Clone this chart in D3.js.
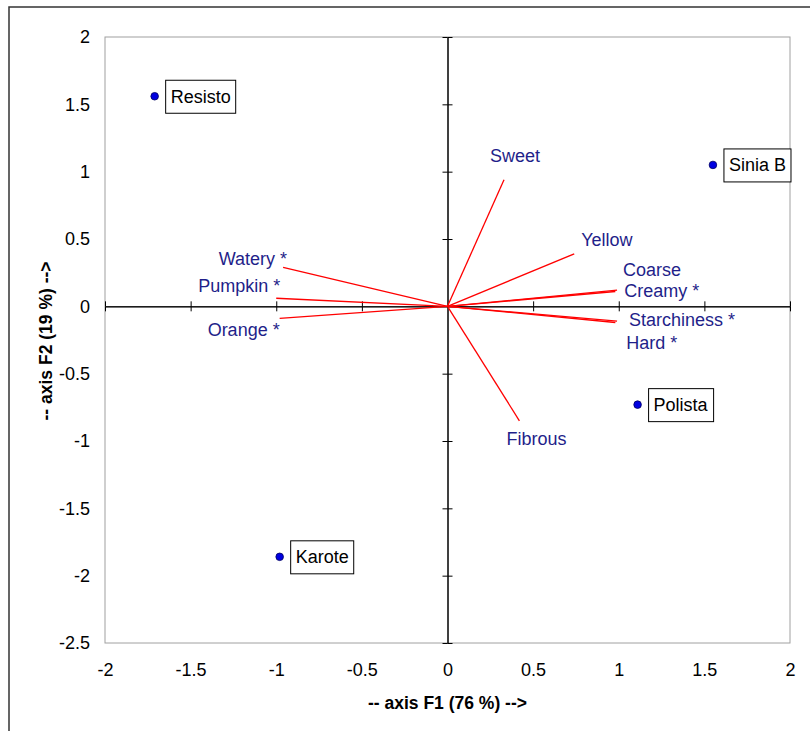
<!DOCTYPE html>
<html>
<head>
<meta charset="utf-8">
<script src="https://cdn.jsdelivr.net/npm/d3@7"></script>
<style>
  body { margin: 0; background: #fff; }
  svg { font-family: Arial, "Liberation Sans", sans-serif; }
</style>
</head>
<body>
<svg width="810" height="731"></svg>
<script>
// observations (varieties)
var varieties = ["Resisto", "Sinia B", "Polista", "Karote"];
var varF1 = [-1.71, 1.55, 1.11, -0.98];
var varF2 = [1.56, 1.05, -0.73, -1.86];

// variables (attributes)
var attributes = ["Watery *", "Pumpkin *", "Orange *", "Sweet", "Yellow", "Coarse", "Creamy *", "Starchiness *", "Hard *", "Fibrous"];
var attrF1 = [-0.96, -1.00, -0.98, 0.33, 0.74, 0.99, 0.98, 0.99, 0.98, 0.42];
var attrF2 = [0.29, 0.06, -0.09, 0.94, 0.39, 0.12, 0.11, -0.11, -0.12, -0.85];

var xTicks = [-2, -1.5, -1, -0.5, 0, 0.5, 1, 1.5, 2];
var yTicks = [-2.5, -2, -1.5, -1, -0.5, 0, 0.5, 1, 1.5, 2];

// label placement relative to vector tip (pixels)
var labelPos = {
    "Watery *": [4, -9, "end"],
    "Pumpkin *": [4, -13, "end"],
    "Orange *": [0, 11, "end"],
    "Sweet": [-14, -24, "start"],
    "Yellow": [7, -14, "start"],
    "Coarse": [6, -20, "start"],
    "Creamy *": [9, -1, "start"],
    "Starchiness *": [12, -1, "start"],
    "Hard *": [11, 20, "start"],
    "Fibrous": [-13, 18, "start"]
};

var svg = d3.select("svg");
var plotL = 105, plotR = 790, plotT = 37, plotB = 643;

var x = d3.scaleLinear().domain([-2, 2]).range([plotL, plotR]);
var y = d3.scaleLinear().domain([-2.5, 2]).range([plotB, plotT]);
var fmt = function(d) { return String(d); };

// outer frame
svg.append("path")
    .attr("d", "M9,731V7H810")
    .attr("fill", "none")
    .attr("stroke", "#333")
    .attr("stroke-width", 1.5);

// plot area border
svg.append("rect")
    .attr("x", plotL).attr("y", plotT)
    .attr("width", plotR - plotL).attr("height", plotB - plotT)
    .attr("fill", "none")
    .attr("stroke", "#a0a0a0");

// tick labels
var xLab = svg.append("g")
    .attr("transform", "translate(0," + plotB + ")")
    .call(d3.axisBottom(x).tickValues(xTicks).tickSize(0).tickPadding(20).tickFormat(fmt));
var yLab = svg.append("g")
    .attr("transform", "translate(" + plotL + ",0)")
    .call(d3.axisLeft(y).tickValues(yTicks).tickSize(0).tickPadding(15).tickFormat(fmt));
[xLab, yLab].forEach(function(g) {
    g.select(".domain").remove();
    g.selectAll("text").attr("font-size", 18).attr("fill", "#000");
    g.attr("font-family", null);
});

// zero axes with crossing ticks
function zeroAxis(axisFn, scale, ticks, transform) {
    var g = svg.append("g")
        .attr("transform", transform)
        .call(axisFn(scale).tickValues(ticks).tickSize(5).tickSizeOuter(0).tickFormat(""));
    g.select(".domain").attr("stroke", "#000");
    g.selectAll(".tick line").attr("stroke", "#000");
}
var xNZ = xTicks.filter(function(d) { return d !== 0; });
var yNZ = yTicks.filter(function(d) { return d !== 0; });
zeroAxis(d3.axisBottom, x, xNZ, "translate(0," + y(0) + ")");
zeroAxis(d3.axisTop, x, xNZ, "translate(0," + y(0) + ")");
zeroAxis(d3.axisLeft, y, yNZ, "translate(" + x(0) + ",0)");
zeroAxis(d3.axisRight, y, yNZ, "translate(" + x(0) + ",0)");

// variable vectors
var attrData = attributes.map(function(a, i) { return { name: a, f1: attrF1[i], f2: attrF2[i] }; });

svg.append("g").selectAll("line")
    .data(attrData)
    .enter().append("line")
    .attr("x1", x(0)).attr("y1", y(0))
    .attr("x2", function(d) { return x(d.f1); })
    .attr("y2", function(d) { return y(d.f2); })
    .attr("stroke", "#ff0000")
    .attr("stroke-width", 1.3);

svg.append("g").selectAll("text")
    .data(attrData)
    .enter().append("text")
    .attr("x", function(d) { return x(d.f1) + labelPos[d.name][0]; })
    .attr("y", function(d) { return y(d.f2) + labelPos[d.name][1]; })
    .attr("dy", "0.35em")
    .attr("text-anchor", function(d) { return labelPos[d.name][2]; })
    .attr("font-size", 18)
    .attr("fill", "#1f1f8a")
    .text(function(d) { return d.name; });

// observations
var varData = varieties.map(function(v, i) { return { name: v, f1: varF1[i], f2: varF2[i] }; });

var obs = svg.append("g").selectAll("g")
    .data(varData)
    .enter().append("g")
    .attr("transform", function(d) { return "translate(" + x(d.f1) + "," + y(d.f2) + ")"; });

obs.append("circle")
    .attr("r", 3.8)
    .attr("fill", "#0000e0")
    .attr("stroke", "#000060")
    .attr("stroke-width", 0.8);

obs.append("text")
    .attr("x", 16)
    .attr("dy", "0.35em")
    .attr("font-size", 18)
    .attr("fill", "#000")
    .text(function(d) { return d.name; })
    .each(function() {
        var bb = this.getBBox();
        d3.select(this.parentNode).insert("rect", "text")
            .attr("x", 11).attr("y", -16)
            .attr("width", bb.width + 10).attr("height", 33)
            .attr("fill", "#fff")
            .attr("stroke", "#000");
    });

// axis titles
svg.append("text")
    .attr("x", x(0)).attr("y", 703)
    .attr("dy", "0.35em")
    .attr("text-anchor", "middle")
    .attr("font-size", 17.5)
    .attr("font-weight", "bold")
    .text("-- axis F1 (76 %) -->");

svg.append("text")
    .attr("transform", "translate(46,341) rotate(-90)")
    .attr("dy", "0.35em")
    .attr("text-anchor", "middle")
    .attr("font-size", 17.5)
    .attr("font-weight", "bold")
    .text("-- axis F2 (19 %) -->");
</script>
</body>
</html>
